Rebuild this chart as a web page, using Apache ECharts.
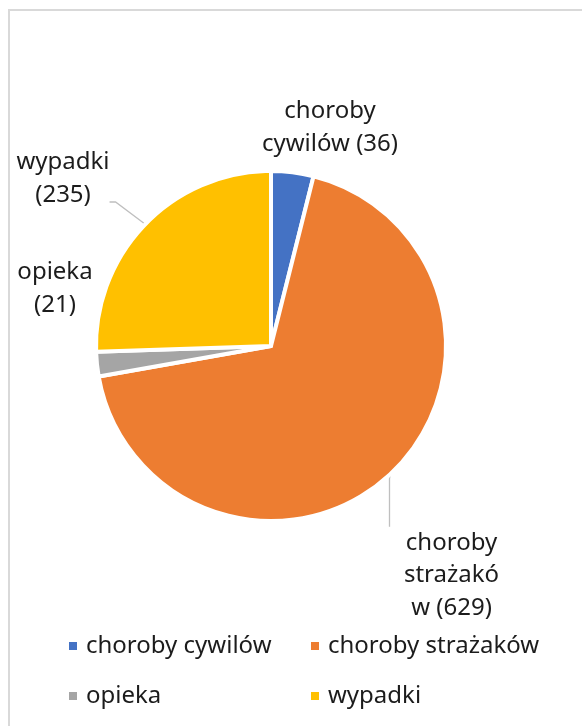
<!DOCTYPE html>
<html>
<head>
<meta charset="utf-8">
<script src="https://cdn.jsdelivr.net/npm/echarts@6/dist/echarts.min.js"></script>
<style>
  html, body { margin: 0; padding: 0; background: #fff; }
  .frame {
    position: absolute; left: 8px; top: 9px; width: 640px; height: 760px;
    border-left: 2px solid #d9d9d9; border-top: 2px solid #d9d9d9;
  }
  #chart { position: absolute; left: 0; top: 0; width: 582px; height: 726px; }
</style>
</head>
<body>
<div class="frame"></div>
<div id="chart"></div>
<script>
const categories = ['choroby cywilów', 'choroby strażaków', 'opieka', 'wypadki']
const values = [36, 629, 21, 235]
// how the data labels wrap in the original
const labelNames = ['choroby\ncywilów ', 'choroby\nstrażakó\nw ', 'opieka\n', 'wypadki\n']
const colors = ['#4472C4', '#ED7D31', '#A5A5A5', '#FFC000']

const font = '"Noto Sans", sans-serif'
const textColor = '#1c1c1c'

// label placement (per slice)
const labelPos = [
  { x: 330, y: 128, align: 'center', verticalAlign: 'middle' },
  { x: 389.5, y: 526.75, align: 'center', verticalAlign: 'top' },
  { x: 55, y: 288.5, align: 'center', verticalAlign: 'middle' },
  { x: 63, y: 145.5, align: 'center', verticalAlign: 'top' }
]
const labelPadding = [0, [0, 0, 0, 124], 0, [0, 0, 47, 0]]
const showLine = [false, true, false, true]
const lineLen = [10, 48, 10, 6]

const chart = echarts.init(document.getElementById('chart'), null, { renderer: 'canvas' })

const pieData = categories.map((name, i) => ({
  name: name,
  value: values[i],
  itemStyle: { color: colors[i] },
  label: {
    padding: labelPadding[i],
    lineHeight: i === 1 ? 32.5 : 33
  },
  labelLine: { show: showLine[i], length2: lineLen[i] }
}))

const legendBase = {
  orient: 'vertical',
  top: 629,
  icon: 'rect',
  itemWidth: 10,
  itemHeight: 10,
  itemGap: 26,
  selectedMode: false,
  textStyle: {
    fontFamily: font,
    fontSize: 24,
    lineHeight: 24,
    color: textColor,
    padding: [0, 0, 0, 3]
  }
}

chart.setOption({
  animation: false,
  color: colors,
  legend: [
    Object.assign({}, legendBase, { left: 62, data: [categories[0], categories[2]] }),
    Object.assign({}, legendBase, { left: 304, data: [categories[1], categories[3]] })
  ],
  series: [{
    type: 'pie',
    center: [271, 346],
    radius: 175,
    startAngle: 90,
    clockwise: true,
    avoidLabelOverlap: false,
    emphasis: { disabled: true },
    itemStyle: {
      borderColor: '#fff',
      borderWidth: 4
    },
    label: {
      show: true,
      position: 'outside',
      fontFamily: font,
      fontSize: 24,
      color: textColor,
      align: 'center',
      backgroundColor: 'rgba(0,0,0,0)',
      formatter: p => labelNames[p.dataIndex] + '(' + p.value + ')'
    },
    labelLine: {
      length: 10,
      smooth: false,
      lineStyle: { color: '#bfbfbf', width: 1.3 }
    },
    labelLayout: p => labelPos[p.dataIndex],
    data: pieData
  }]
})
</script>
</body>
</html>
